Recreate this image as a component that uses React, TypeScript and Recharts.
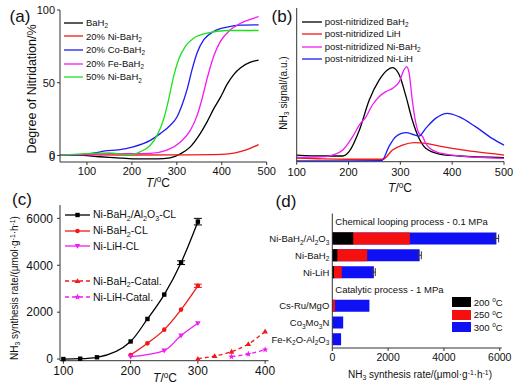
import React from 'react';
import { LineChart, Line, XAxis, YAxis, BarChart, Bar, ErrorBar, Legend, ReferenceLine } from 'recharts';

const FONT = "'Liberation Sans', Arial, Helvetica, sans-serif";
const INK = '#111';
const FRAME = '#333';

// (a) degree of nitridation vs temperature
const aTempBaH2 = [40, 77, 129, 167, 203, 256, 285, 308, 330, 352, 367, 382, 397, 412, 427, 442, 464, 482];
const aBaH2 = [0.2, 0.2, -0.9, -1.6, -2.3, -2.3, -1.6, 1.1, 5.9, 15, 22.9, 32, 39.9, 49, 55.8, 60.3, 64.1, 65.5];
const aTempNi20 = [40, 100, 200, 300, 400, 430, 456, 482];
const aNi20 = [0.3, 0.4, 0.3, 0.4, 0.8, 1.8, 4, 7.5];
const aTempCo20 = [40, 80, 110, 130, 140, 170, 203, 241, 263, 285, 300, 311, 323, 334, 345, 360, 382, 412, 442, 482];
const aCo20 = [0.2, 0.5, 1.5, 2.5, 3.2, 3.8, 5.9, 10.4, 15, 20.6, 26.3, 34.2, 45.6, 59.2, 70.5, 79.6, 85.2, 88.2, 89.6, 89.8];
const aTempFe20 = [40, 100, 150, 200, 241, 278, 308, 330, 345, 356, 367, 382, 397, 419, 442, 471, 482];
const aFe20 = [0.2, 0.8, 1.2, 1.2, 1.4, 3.6, 9.3, 17.2, 27.4, 38.8, 52.4, 68.2, 78.4, 86.4, 90.9, 94.3, 95.4];
const aTempNi50 = [40, 100, 150, 180, 200, 218, 241, 256, 271, 282, 293, 304, 319, 338, 367, 412, 482];
const aNi50 = [0.2, 1.2, 1.8, 0.8, 0.6, 2.5, 7, 13.8, 25.2, 38.8, 54.6, 66, 75, 80.7, 84.1, 85.9, 85.9];
const aNames = ['BaH_2', '20% Ni-BaH_2', '20% Co-BaH_2', '20% Fe-BaH_2', '50% Ni-BaH_2'];
const aColors = ['#000000', '#f01818', '#1c1cf5', '#f01cf0', '#1ee01e'];
const aTicksY = [0, 50, 100];

// (b) NH3 signal of post-nitridized samples
const bTempBaH2 = [100, 150, 189, 201, 221, 240, 259, 275, 285, 298, 311, 323, 336, 349, 375, 413, 500];
const bBaH2 = [4.3, 3.7, 3.7, 6.5, 20.6, 40.1, 53.1, 59.7, 61.2, 56.4, 42.3, 27.1, 15.2, 8.7, 5, 3.7, 2.6];
const bTempLiH = [100, 150, 200, 266, 285, 304, 327, 349, 381, 413, 445, 500];
const bLiH = [2.4, 1.8, 1.6, 1.6, 7.6, 10.8, 12.4, 11.9, 9.8, 8, 6.5, 4.3];
const bTempNiBaH2 = [100, 156, 169, 189, 208, 221, 234, 246, 259, 272, 285, 298, 307, 312, 317, 323, 330, 336, 343, 349, 368, 400, 500];
const bNiBaH2 = [2.8, 3.3, 4.3, 7.6, 16.3, 23.9, 29.3, 36.9, 42.3, 45.6, 47.7, 52.1, 59.7, 61.8, 57.5, 40.1, 24.9, 18.4, 16.3, 11.9, 6.5, 4.3, 2.2];
const bTempNiLiH = [100, 200, 264, 278, 291, 311, 327, 336, 349, 368, 391, 413, 445, 477, 500];
const bNiLiH = [0.6, 0.6, 0.7, 9.8, 16.3, 18.9, 17.4, 16.7, 21.7, 28.2, 31.5, 29.3, 22.8, 15.2, 10.8];
const bNames = ['post-nitridized BaH_2', 'post-nitridized LiH', 'post-nitridized Ni-BaH_2', 'post-nitridized Ni-LiH'];
const bColors = ['#000000', '#f01818', '#f01cf0', '#1c1cf5'];

// (c) NH3 synthesis rate vs temperature
const cTempAlCL = [100, 125, 150, 200, 225, 250, 275, 300];
const cAlCL = [0, 15, 75, 750, 1710, 2750, 4110, 5860];
const cAlCLErr = [0, 0, 0, 0, 0, 0, 80, 140];
const cTempBaCL = [200, 225, 250, 275, 300];
const cBaCL = [170, 670, 1255, 2110, 3125];
const cBaCLErr = [0, 0, 0, 0, 70];
const cTempLiCL = [200, 250, 275, 300];
const cLiCL = [100, 360, 1000, 1525];
const cTempBaCat = [300, 325, 350, 375, 400];
const cBaCat = [15, 130, 315, 640, 1180];
const cTempLiCat = [350, 375, 400];
const cLiCat = [100, 215, 400];
const cNames = ['Ni-BaH_2/Al_2O_3-CL', 'Ni-BaH_2-CL', 'Ni-LiH-CL', 'Ni-BaH_2-Catal.', 'Ni-LiH-Catal.'];
const cColors = ['#000000', '#f01818', '#f01cf0', '#f01818', '#f01cf0'];
const cShapes = ['square', 'circle', 'tridown', 'triup', 'star'];

// (d) synthesis rate by process
const dTopNames = ['hdr1', 'Ni-BaH_2/Al_2O_3', 'Ni-BaH_2', 'Ni-LiH'];
const dTop200 = [null, 750, 180, 60];
const dTop250 = [null, 2780, 1250, 340];
const dTop300 = [null, 5880, 3130, 1490];
const dTopErr = [0, 80, 60, 50];
const dBotNames = ['hdr2', 'Cs-Ru/MgO', 'Co_3Mo_3N', 'Fe-K_2O-Al_2O_3'];
const dBot250 = [null, 100, null, null];
const dBot300 = [null, 1330, 390, 315];
const dLegend = ['200 ^oC', '250 ^oC', '300 ^oC'];
const dColors = ['#000000', '#f51010', '#1010f5'];

type Seg = { t: string; k: 'n' | 'sub' | 'sup' };

function parseRich(s: string): Seg[] {
  const out: Seg[] = [];
  let buf = '';
  for (let i = 0; i < s.length; i++) {
    const c = s[i];
    if ((c === '_' || c === '^') && i + 1 < s.length) {
      if (buf) { out.push({ t: buf, k: 'n' }); buf = ''; }
      let t = '';
      if (s[i + 1] === '{') {
        const j = s.indexOf('}', i);
        t = s.slice(i + 2, j);
        i = j;
      } else {
        t = s[i + 1];
        i++;
      }
      out.push({ t, k: c === '_' ? 'sub' : 'sup' });
    } else buf += c;
  }
  if (buf) out.push({ t: buf, k: 'n' });
  return out;
}

const htmlRich = (s: string) =>
  parseRich(s).map((seg, i) =>
    seg.k === 'n' ? (
      <span key={i}>{seg.t}</span>
    ) : (
      <span key={i} style={{ fontSize: '0.68em', position: 'relative', top: seg.k === 'sub' ? '0.35em' : '-0.5em' }}>
        {seg.t}
      </span>
    )
  );

function svgRich(s: string, subSize: number) {
  let shift = 0;
  return parseRich(s).map((seg, i) => {
    const target = seg.k === 'sub' ? 2.5 : seg.k === 'sup' ? -3.5 : 0;
    const dy = target - shift;
    shift = target;
    return (
      <tspan key={i} dy={dy || undefined} fontSize={seg.k === 'n' ? undefined : subSize}>
        {seg.t}
      </tspan>
    );
  });
}

const pts = (xs: number[], ys: number[], es?: number[]) =>
  xs.map((x, i) => ({ x, y: ys[i], e: es ? es[i] : 0 }));

const aSeries = [
  pts(aTempBaH2, aBaH2), pts(aTempNi20, aNi20), pts(aTempCo20, aCo20), pts(aTempFe20, aFe20), pts(aTempNi50, aNi50),
].map((data, i) => ({ data, name: aNames[i], color: aColors[i] }));

const bSeries = [pts(bTempBaH2, bBaH2), pts(bTempLiH, bLiH), pts(bTempNiBaH2, bNiBaH2), pts(bTempNiLiH, bNiLiH)].map(
  (data, i) => ({ data, name: bNames[i], color: bColors[i] })
);

const cSeries = [
  pts(cTempAlCL, cAlCL, cAlCLErr), pts(cTempBaCL, cBaCL, cBaCLErr), pts(cTempLiCL, cLiCL),
  pts(cTempBaCat, cBaCat), pts(cTempLiCat, cLiCat),
].map((data, i) => ({ data, name: cNames[i], color: cColors[i], shape: cShapes[i], dashed: i >= 3, err: i < 2 }));

const dTopData = dTopNames.map((name, i) => ({ name, t200: dTop200[i], t250: dTop250[i], t300: dTop300[i], e: dTopErr[i] }));
const dBotData = dBotNames.map((name, i) => ({ name, t250: dBot250[i], t300: dBot300[i] }));

const Marker = ({ cx, cy, shape, color }: { cx: number; cy: number; shape: string; color: string }) => {
  if (cx == null || cy == null) return <g />;
  if (shape === 'square') return <rect x={cx - 2.2} y={cy - 2.2} width={4.4} height={4.4} fill={color} />;
  if (shape === 'circle') return <circle cx={cx} cy={cy} r={2.3} fill={color} />;
  if (shape === 'tridown')
    return <polygon points={`${cx - 2.8},${cy - 2} ${cx + 2.8},${cy - 2} ${cx},${cy + 2.8}`} fill={color} />;
  if (shape === 'triup')
    return <polygon points={`${cx - 2.8},${cy + 2} ${cx + 2.8},${cy + 2} ${cx},${cy - 2.8}`} fill={color} />;
  const p: string[] = [];
  for (let k = 0; k < 10; k++) {
    const r = k % 2 === 0 ? 3.4 : 1.4;
    const a = -Math.PI / 2 + (k * Math.PI) / 5;
    p.push(`${cx + r * Math.cos(a)},${cy + r * Math.sin(a)}`);
  }
  return <polygon points={p.join(' ')} fill={color} />;
};

const LineLegend = ({ items, lineW, rowH, fontSize, gapAfter, gapH }: any) => (
  <div style={{ fontSize, color: INK, lineHeight: 1 }}>
    {items.map((it: any, i: number) => (
      <div key={i} style={{ display: 'flex', alignItems: 'center', height: rowH, whiteSpace: 'nowrap', marginBottom: i === gapAfter ? gapH : 0 }}>
        <svg width={lineW} height={8} style={{ overflow: 'visible' }}>
          <line x1={0} y1={4} x2={lineW} y2={4} stroke={it.color} strokeWidth={1.3} strokeDasharray={it.dashed ? '4 3' : undefined} />
          {it.shape && <Marker cx={lineW / 2} cy={4} shape={it.shape} color={it.color} />}
        </svg>
        <span style={{ marginLeft: 3 }}>{htmlRich(it.name)}</span>
      </div>
    ))}
  </div>
);

const BoxLegend = () => (
  <div style={{ fontSize: 9.5, color: INK, lineHeight: 1 }}>
    {dLegend.map((name, i) => (
      <div key={i} style={{ display: 'flex', alignItems: 'center', height: 12.5, whiteSpace: 'nowrap' }}>
        <div style={{ width: 19, height: 10, background: dColors[i] }} />
        <span style={{ marginLeft: 3 }}>{htmlRich(name)}</span>
      </div>
    ))}
  </div>
);

const Title = ({ x, y, rotate, size, children }: any) => (
  <div
    style={{
      position: 'absolute', left: x, top: y, fontSize: size, color: INK, whiteSpace: 'nowrap', lineHeight: 1,
      transform: `translate(-50%, -50%)${rotate ? ' rotate(-90deg)' : ''}`,
    }}
  >
    {children}
  </div>
);

const TLabel = () => (
  <span>
    <i>T</i>/<span style={{ fontSize: '0.68em', position: 'relative', top: '-0.5em' }}>o</span>C
  </span>
);

const NameTick = (props: any) => {
  const { x, y, payload } = props;
  const label = String(payload.value);
  if (label.startsWith('hdr')) return <g />;
  return (
    <text x={x} y={y} dy={3.3} textAnchor="end" fontSize={9.5} fill={INK}>
      {svgRich(label, 6.5)}
    </text>
  );
};

const tickStyle = (size: number) => ({ fontSize: size, fill: INK });

export default function App() {
  return (
    <div style={{ position: 'absolute', left: 0, top: 0, width: 518, height: 389, background: '#fff', overflow: 'hidden', fontFamily: FONT }}>
      {/* (a) */}
      <div style={{ position: 'absolute', left: 0, top: 0 }}>
        <LineChart width={290} height={195} margin={{ top: 10, right: 23.3, bottom: 0, left: 0 }}>
          <XAxis type="number" dataKey="x" domain={[40, 500]} ticks={[100, 200, 300, 400, 500]} interval={0} height={33}
            tickSize={3} tickMargin={2} stroke={FRAME} tick={tickStyle(11)} />
          <XAxis xAxisId="top" orientation="top" type="number" domain={[0, 1]} tick={false} tickLine={false} height={0} stroke={FRAME} />
          <YAxis type="number" domain={[-4.5, 100]} ticks={aTicksY} interval={0} allowDataOverflow width={60} tickSize={3} tickMargin={2}
            stroke={FRAME} tick={tickStyle(11)} />
          {aSeries.map((s) => (
            <Line key={s.name} data={s.data} dataKey="y" type="monotone" stroke={s.color} strokeWidth={1.3}
              dot={false} isAnimationActive={false} name={s.name} />
          ))}
          <Legend layout="vertical" align="center" verticalAlign="middle" wrapperStyle={{ left: 64, top: 16, width: 'auto' }}
            content={() => <LineLegend items={aSeries} lineW={19} rowH={13.6} fontSize={9.5} />} />
        </LineChart>
      </div>

      {/* (b) */}
      <div style={{ position: 'absolute', left: 265, top: 0 }}>
        <LineChart width={253} height={195} margin={{ top: 8, right: 14, bottom: 0, left: 0 }}>
          <XAxis type="number" dataKey="x" domain={[100, 500]} ticks={[100, 200, 300, 400, 500]} interval={0} height={33.3}
            tickSize={3} tickMargin={3} stroke={FRAME} tick={tickStyle(11)} />
          <XAxis xAxisId="top" orientation="top" type="number" domain={[0, 1]} tick={false} tickLine={false} height={0} stroke={FRAME} />
          <YAxis type="number" domain={[0, 100]} width={31.7} tick={false} tickLine={false} stroke={FRAME} />
          <YAxis yAxisId="right" orientation="right" type="number" domain={[0, 1]} width={0} tick={false} tickLine={false} stroke={FRAME} />
          {bSeries.map((s) => (
            <Line key={s.name} data={s.data} dataKey="y" type="monotone" stroke={s.color} strokeWidth={1.3}
              dot={false} isAnimationActive={false} name={s.name} />
          ))}
          <Legend layout="vertical" align="center" verticalAlign="middle" wrapperStyle={{ left: 36.7, top: 15.4, width: 'auto' }}
            content={() => <LineLegend items={bSeries} lineW={20} rowH={12.5} fontSize={9.5} />} />
        </LineChart>
      </div>

      {/* (c) */}
      <div style={{ position: 'absolute', left: 0, top: 185 }}>
        <LineChart width={280} height={204} margin={{ top: 20, right: 11.5, bottom: 0, left: 0 }}>
          <XAxis type="number" dataKey="x" domain={[95, 405]} ticks={[100, 200, 300, 400]} interval={0} height={28.3}
            tickSize={3} tickMargin={3} stroke={FRAME} tick={tickStyle(12)} />
          <XAxis xAxisId="top" orientation="top" type="number" domain={[0, 1]} tick={false} tickLine={false} height={0} stroke={FRAME} />
          <YAxis type="number" domain={[-70, 6570]} ticks={[0, 2000, 4000, 6000]} interval={0} width={60} tickSize={3} tickMargin={4}
            stroke={FRAME} tick={tickStyle(12)} />
          <YAxis yAxisId="right" orientation="right" type="number" domain={[0, 1]} width={0} tick={false} tickLine={false} stroke={FRAME} />
          {cSeries.map((s) => (
            <Line key={s.name} data={s.data} dataKey="y" type="monotone" stroke={s.color} strokeWidth={1.3}
              strokeDasharray={s.dashed ? '4 3' : undefined} isAnimationActive={false} name={s.name}
              dot={(p: any) => <Marker key={`${s.name}-${p.index}`} cx={p.cx} cy={p.cy} shape={s.shape} color={s.color} />}
              activeDot={false}>
              {s.err && <ErrorBar dataKey="e" direction="y" width={4} stroke={s.color} strokeWidth={1} />}
            </Line>
          ))}
          <Legend layout="vertical" align="center" verticalAlign="middle" wrapperStyle={{ left: 65, top: 22, width: 'auto' }}
            content={() => <LineLegend items={cSeries} lineW={25} rowH={15.8} fontSize={10.5} gapAfter={2} gapH={19} />} />
        </LineChart>
      </div>

      {/* (d) chemical looping */}
      <div style={{ position: 'absolute', left: 259, top: 185 }}>
        <BarChart width={259} height={96} data={dTopData} layout="vertical" barSize={12} barGap={-12}
          margin={{ top: 28.5, right: 16.3, bottom: 0, left: 0 }}>
          <XAxis type="number" domain={[0, 6070]} hide />
          <XAxis xAxisId="top" orientation="top" type="number" domain={[0, 1]} tick={false} tickLine={false} height={0} stroke={FRAME} />
          <YAxis type="category" dataKey="name" width={73.3} interval={0} tickLine={false} tickSize={0} tickMargin={3} stroke={FRAME} tick={<NameTick />} />
          <YAxis yAxisId="right" orientation="right" type="number" domain={[0, 1]} width={0} tick={false} tickLine={false} stroke={FRAME} />
          <ReferenceLine y="hdr1" stroke="none"
            label={{ value: 'Chemical looping process - 0.1 MPa', position: 'insideLeft', offset: 3, fontSize: 9.5, fill: INK }} />
          <Bar dataKey="t300" fill={dColors[2]} isAnimationActive={false}>
            <ErrorBar dataKey="e" direction="x" width={4} stroke="#333" strokeWidth={1} />
          </Bar>
          <Bar dataKey="t250" fill={dColors[1]} isAnimationActive={false} />
          <Bar dataKey="t200" fill={dColors[0]} isAnimationActive={false} />
        </BarChart>
      </div>

      {/* (d) catalytic */}
      <div style={{ position: 'absolute', left: 259, top: 270 }}>
        <BarChart width={259} height={119} data={dBotData} layout="vertical" barSize={12} barGap={-12}
          margin={{ top: 11, right: 16.3, bottom: 0, left: 0 }}>
          <XAxis type="number" domain={[0, 6070]} ticks={[0, 2000, 4000, 6000]} interval={0} height={41} tickSize={3} tickMargin={3}
            stroke={FRAME} tick={tickStyle(10.5)} />
          <XAxis xAxisId="top" orientation="top" type="number" domain={[0, 1]} tick={false} tickLine={false} height={0} stroke={FRAME} />
          <YAxis type="category" dataKey="name" width={73.3} interval={0} tickLine={false} tickSize={0} tickMargin={3} stroke={FRAME} tick={<NameTick />} />
          <YAxis yAxisId="right" orientation="right" type="number" domain={[0, 1]} width={0} tick={false} tickLine={false} stroke={FRAME} />
          <ReferenceLine y="hdr2" stroke="none"
            label={{ value: 'Catalytic process - 1 MPa', position: 'insideLeft', offset: 3, fontSize: 9.5, fill: INK }} />
          <Bar dataKey="t300" fill={dColors[2]} isAnimationActive={false} />
          <Bar dataKey="t250" fill={dColors[1]} isAnimationActive={false} />
          <Legend layout="vertical" align="center" verticalAlign="middle" wrapperStyle={{ left: 192.7, top: 26, width: 'auto' }}
            content={() => <BoxLegend />} />
        </BarChart>
      </div>

      {/* axis titles and panel letters */}
      <Title x={31.7} y={88.5} rotate size={12.5}>Degree of Nitridation/%</Title>
      <div style={{ position: 'absolute', right: 518 - 55, top: 156.5, transform: 'translateY(-50%)', fontSize: 11, color: INK, lineHeight: 1 }}>
        {aTicksY[0]}
      </div>
      <Title x={158} y={182.5} size={12}><TLabel /></Title>
      <Title x={284} y={93} rotate size={10}>{htmlRich('NH_3 signal/(a.u.)')}</Title>
      <Title x={400} y={188} size={12}><TLabel /></Title>
      <Title x={15} y={288} rotate size={10}>{htmlRich('NH_3 synthesis rate/(μmol·g^{-1}·h^{-1})')}</Title>
      <Title x={165} y={378} size={12}><TLabel /></Title>
      <Title x={420} y={375} size={10}>{htmlRich('NH_3 synthesis rate/(μmol·g^{-1}·h^{-1})')}</Title>
      <Title x={20} y={16} size={17}>(a)</Title>
      <Title x={282} y={16} size={17}>(b)</Title>
      <Title x={22} y={199} size={17}>(c)</Title>
      <Title x={286} y={201} size={17}>(d)</Title>
    </div>
  );
}
